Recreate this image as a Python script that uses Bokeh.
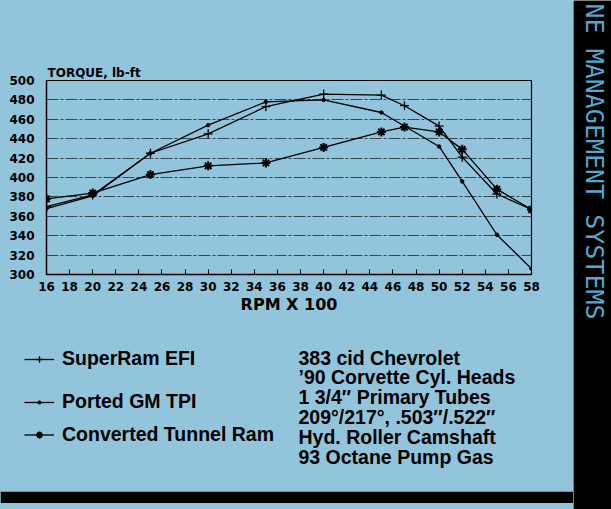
import math
from bokeh.plotting import figure
from bokeh.models import Range1d, Legend, LegendItem, FixedTicker
from bokeh.layouts import row, column
from bokeh.embed import file_html
from bokeh.resources import INLINE
from bokeh.core.properties import value

BG = "#92c4db"
FONT = "DejaVu Sans"
TFONT = "Liberation Sans"
NAN = float("nan")

# ---- data ----
rpm_superram = [16, 20, 25, 30, 35, 40, 45, 47, 50, 52, 55, 58]
tq_superram = [370, 382, 425, 445, 473, 486, 485, 474, 453, 421, 383, 367]

rpm_ported = [16, 20, 25, 30, 35, 40, 45, 50, 52, 55, 58]
tq_ported = [368, 381, 425, 454, 478, 480, 467, 432, 396, 341, 306]

rpm_tunnel = [16, 20, 25, 30, 35, 40, 45, 47, 50, 52, 55, 58]
tq_tunnel = [378, 384, 403, 412, 415, 431, 447, 452, 447, 429, 388, 367]

x_ticks = list(range(16, 60, 2))
y_ticks = list(range(300, 520, 20))
series_names = ["SuperRam EFI", "Ported GM TPI", "Converted Tunnel Ram"]
spec_lines = [
    "383 cid Chevrolet",
    "\u201990 Corvette Cyl. Heads",
    "1 3/4\u2033 Primary Tubes",
    "209\u00b0/217\u00b0, .503\u2033/.522\u2033",
    "Hyd. Roller Camshaft",
    "93 Octane Pump Gas",
]
y_title = "TORQUE, lb-ft"
x_title = "RPM X 100"
side_text = "NE MANAGEMENT SYSTEMS"

W = 573      # width of the blue panel
SW = 38      # width of the black side strip
H1, H2, H3 = 318, 185, 6

# ---- main chart ----
p = figure(width=W, height=H1, x_range=Range1d(16, 58), y_range=Range1d(300, 500),
           output_backend="svg", toolbar_location=None, title=y_title,
           min_border_left=46, min_border_right=42, min_border_top=80, min_border_bottom=44,
           background_fill_color=BG, border_fill_color=BG,
           outline_line_color="black", outline_line_width=1.2)

p.title.align = "left"
p.title.offset = 1
p.title.standoff = 1
p.title.text_font = FONT
p.title.text_font_style = "bold"
p.title.text_font_size = "12px"
p.title.text_color = "black"

p.xaxis.ticker = FixedTicker(ticks=x_ticks)
p.yaxis.ticker = FixedTicker(ticks=y_ticks)
for ax in (p.xaxis, p.yaxis):
    ax.axis_line_color = "black"
    ax.axis_line_width = 1.3
    ax.major_label_text_font = FONT
    ax.major_label_text_font_style = "bold"
    ax.major_label_text_font_size = "12px"
    ax.major_label_text_color = "black"
    ax.minor_tick_line_color = None
p.xaxis.major_tick_in = 5
p.xaxis.major_tick_out = 0
p.xaxis.major_tick_line_color = "black"
p.xaxis.major_label_standoff = 7
p.yaxis.major_tick_line_color = None
p.yaxis.major_label_standoff = 6

p.xaxis.axis_label = x_title
p.xaxis.axis_label_text_font = FONT
p.xaxis.axis_label_text_font_style = "bold"
p.xaxis.axis_label_text_font_size = "16px"
p.xaxis.axis_label_text_color = "black"
p.xaxis.axis_label_standoff = 1

p.xgrid.visible = False
p.ygrid.grid_line_color = "#23323a"
p.ygrid.grid_line_alpha = 0.85
p.ygrid.grid_line_width = 1
p.ygrid.grid_line_dash = "12 2 3 2"

LINE = dict(line_color="black", line_width=1.3)
SR_M = dict(marker="cross", size=9, line_color="black", line_width=1.3)
PT_M = dict(marker="circle", size=3.5, line_color="black", fill_color="black")
TR_M = dict(marker="asterisk", size=9, line_color="black", line_width=2)

p.line(rpm_superram, tq_superram, **LINE)
p.scatter(rpm_superram, tq_superram, **SR_M)
p.line(rpm_ported, tq_ported, **LINE)
p.scatter(rpm_ported, tq_ported, **PT_M)
p.line(rpm_tunnel, tq_tunnel, **LINE)
p.scatter(rpm_tunnel, tq_tunnel, **TR_M)

# ---- key and engine notes below the chart (pixel coordinates) ----
BB = 12  # black band at the bottom
q = figure(width=W, height=H2, x_range=Range1d(0, W), y_range=Range1d(0, H2 - BB),
           x_axis_type=None, y_axis_type=None, output_backend="svg", toolbar_location=None,
           min_border_left=0, min_border_right=0, min_border_top=0, min_border_bottom=BB,
           background_fill_color=BG, border_fill_color="black", outline_line_color=None)

styles = [SR_M, PT_M, TR_M]
legend_bottoms = [121, 78, 45]
glyph_heights = [16, 8, 17]
for name, mk, lb, gh in zip(series_names, styles, legend_bottoms, glyph_heights):
    rl = q.line([NAN, NAN], [NAN, NAN], **LINE)
    rs = q.scatter([NAN], [NAN], **mk)
    leg = Legend(items=[LegendItem(label=name, renderers=[rl, rs])], location=(24, lb),
                 border_line_color=None, background_fill_alpha=0, padding=0, margin=0,
                 spacing=0, glyph_width=30, glyph_height=gh, label_height=20, label_standoff=8,
                 label_text_font=TFONT, label_text_font_size="19.5px",
                 label_text_font_style="bold", label_text_color="black")
    q.add_layout(leg)

spec_y = [134 - i * 19.8 for i in range(len(spec_lines))]
q.text(x=[298] * len(spec_lines), y=spec_y, text=spec_lines, text_align="left",
       text_baseline="middle", text_font=value(TFONT), text_font_style="bold",
       text_font_size="19.5px", text_color="black")

tail = figure(width=W, height=H3, x_axis_type=None, y_axis_type=None,
              output_backend="svg", toolbar_location=None, min_border=0,
              background_fill_color=BG, border_fill_color=BG, outline_line_color=None)

# ---- black side strip ----
strip = figure(width=SW, height=H1 + H2 + H3, x_range=Range1d(0, SW),
               y_range=Range1d(0, H1 + H2 + H3),
               x_axis_type=None, y_axis_type=None, output_backend="svg", toolbar_location=None,
               min_border=0, background_fill_color="black", border_fill_color="black",
               outline_line_color=None)
strip.text(x=[21], y=[H1 + H2 + H3 - 3], text=[side_text], angle=-math.pi / 2,
           text_align="left", text_baseline="middle", text_font=value("DejaVu Sans Mono"),
           text_font_size="25px", text_color="#56a7cc")

left = column(p, row(q), row(tail), styles={"background-color": BG})
layout = row(left, strip)
open("out.html", "w").write(file_html(layout, INLINE))
